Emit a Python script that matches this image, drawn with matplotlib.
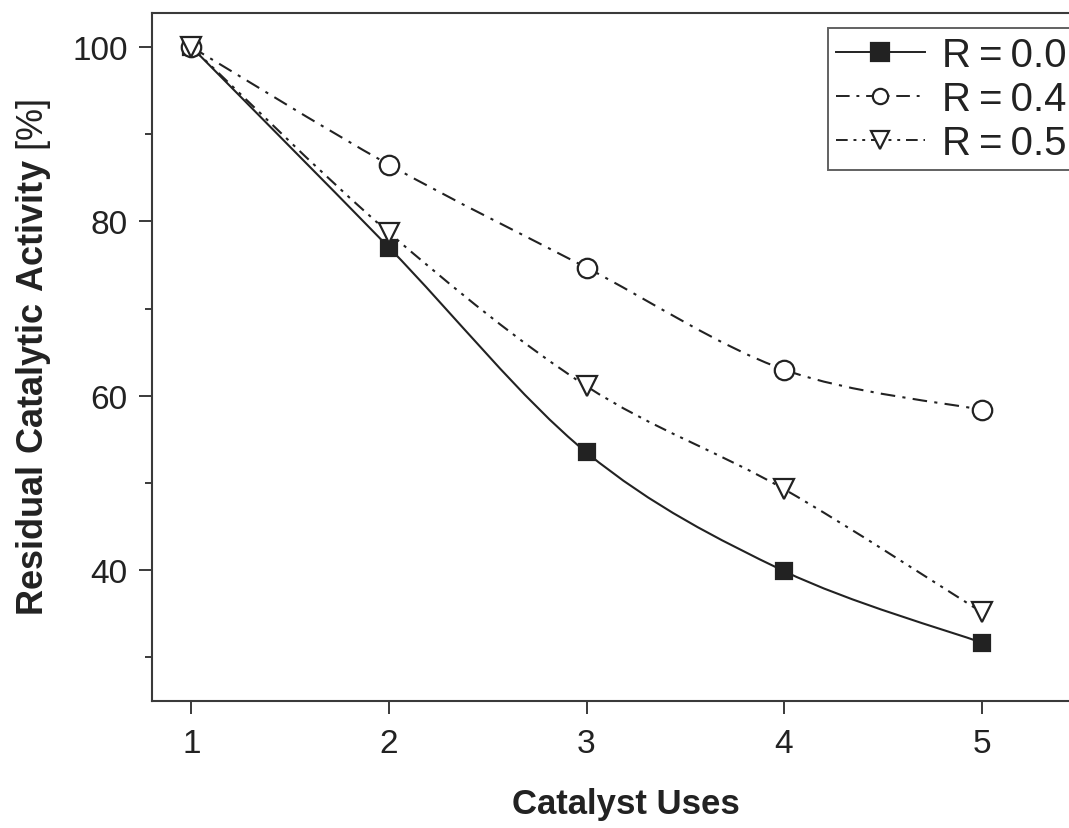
"""Residual catalytic activity versus number of catalyst uses."""

import matplotlib
matplotlib.use("Agg")
import matplotlib.pyplot as plt
import numpy as np
from matplotlib.lines import Line2D
from matplotlib.patches import PathPatch
from matplotlib.path import Path

plt.rcParams["font.family"] = ["Liberation Sans", "DejaVu Sans"]
plt.rcParams["mathtext.fontset"] = "custom"
plt.rcParams["mathtext.rm"] = "Liberation Sans"
plt.rcParams["mathtext.bf"] = "Liberation Sans:bold"

uses = [1, 2, 3, 4, 5]
r00 = [100.0, 77.0, 53.5, 39.9, 31.7]
r04 = [100.0, 86.5, 74.7, 63.0, 58.4]
r05 = [100.0, 78.7, 61.1, 49.3, 35.2]
labels = ["R\u2009=\u20090.0", "R\u2009=\u20090.4", "R\u2009=\u20090.5"]

INK = "#222222"
AXC = "#3a3a3a"


def _smooth_path(x, y):
    """Catmull-Rom curve through the points, as cubic Bezier segments."""
    pts = np.column_stack([x, y]).astype(float)
    ext = np.vstack([pts[0], pts, pts[-1]])
    verts, codes = [pts[0]], [Path.MOVETO]
    for i in range(len(pts) - 1):
        p0, p1, p2, p3 = ext[i], ext[i + 1], ext[i + 2], ext[i + 3]
        verts += [p1 + (p2 - p0) / 6.0, p2 - (p3 - p1) / 6.0, p2]
        codes += [Path.CURVE4] * 3
    return Path(verts, codes)


fig = plt.figure(figsize=(10.69, 8.29), dpi=100)
ax = fig.add_axes([152 / 1069, 127 / 829, 948 / 1069, 688 / 829])

series = [
    (r00, "-", dict(marker="s", markersize=12, markerfacecolor=INK), 12.5),
    (r04, (0, (7, 3.5, 1.5, 3.5)), dict(marker="o", markersize=14, markerfacecolor="white"), 11),
    (r05, (0, (6, 3, 1.5, 3, 1.5, 3)), dict(marker="v", markersize=14, markerfacecolor="white"), 12.5),
]

handles = []
for vals, ls, mk, legsize in series:
    ax.add_patch(PathPatch(_smooth_path(uses, vals), fill=False, edgecolor=INK,
                           linewidth=1.5, linestyle=ls))
    ax.plot(uses, vals, linestyle="none", color=INK, markeredgecolor=INK,
            markeredgewidth=1.6, **mk)
    hmk = dict(mk)
    hmk["markersize"] = legsize
    handles.append(Line2D([], [], color=INK, linestyle=ls, linewidth=1.4,
                          markeredgecolor=INK, markeredgewidth=1.6, **hmk))

ax.set_xlim(0.8, 5.6)
ax.set_ylim(25, 103.9)
ax.set_xticks(uses)
ax.set_yticks([40, 60, 80, 100])
ax.set_yticks([30, 50, 70, 90], minor=True)

for s in ("top", "left", "bottom"):
    ax.spines[s].set_linewidth(1.5)
    ax.spines[s].set_color(AXC)
ax.spines["right"].set_visible(False)

ax.tick_params(axis="both", which="major", direction="out", length=9.5,
               width=1.4, color=AXC, labelsize=24, labelcolor=INK, pad=8)
ax.tick_params(axis="y", which="minor", direction="out", length=5,
               width=1.4, color=AXC)
ax.tick_params(axis="x", pad=10)

ax.set_xlabel("Catalyst Uses", fontsize=25, fontweight="bold", color=INK,
              labelpad=20)
ax.set_ylabel(r"$\mathbf{Residual\ Catalytic\ Activity}$ [%]", fontsize=26,
              color=INK, labelpad=14)

leg = fig.legend(handles, labels, loc="upper left",
                 bbox_to_anchor=(828 / 1069, 1 - 29 / 829), fontsize=29,
                 frameon=True, fancybox=False, edgecolor=AXC, handlelength=2.2,
                 handletextpad=0.42, labelspacing=0.15, borderpad=0.2,
                 borderaxespad=0)
leg.get_frame().set_linewidth(1.4)
for t in leg.get_texts():
    t.set_color(INK)

fig.savefig("out.png", dpi=100)
